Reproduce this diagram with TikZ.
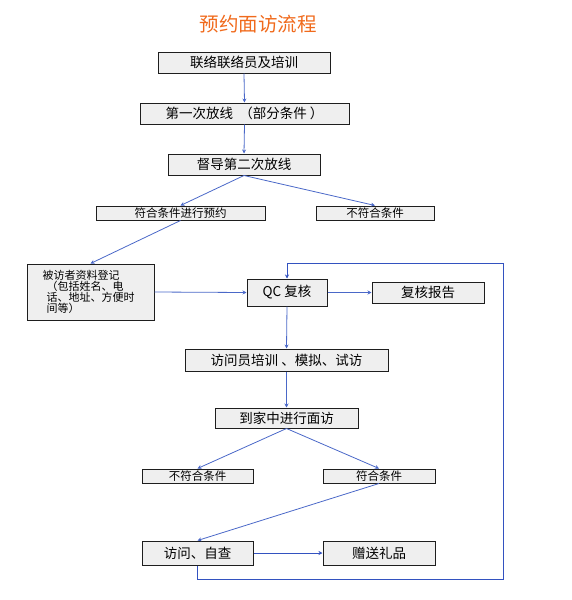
\documentclass[tikz,border=0pt]{standalone}
\usepackage{fontspec}
\usepackage{xcolor}
\usetikzlibrary{arrows.meta,positioning}
\newfontfamily\cjk{Noto Sans CJK SC}
\definecolor{Flame}{HTML}{F06A1C}
\definecolor{Wire}{HTML}{4A68C8}
\definecolor{DeepWire}{HTML}{3352C0}
\definecolor{Frame}{HTML}{1E1E1E}
\definecolor{Paper}{HTML}{EFEFEF}
\begin{document}
\begin{tikzpicture}[x=1pt,y=-1pt,
    box/.style={draw=Frame,fill=Paper,line width=1pt,inner sep=0pt,font=\cjk\fontsize{13.5}{13.5}\selectfont},
    thin box/.style={box,font=\cjk\fontsize{11.5}{11.5}\selectfont},
    link/.style={Wire,line width=.8pt,-{Stealth[length=4pt,width=4pt]}}]
  \useasboundingbox (0,0) rectangle (572,600);
  \node[font=\cjk\fontsize{19.5}{19.5}\selectfont,text=Flame] (tit) at (258,24) {预约面访流程};
  % boxes: name/x/y/width/height/style/text
  \foreach \n/\x/\y/\w/\h/\s/\t in {
      lianluo/244/62.5/172/21/box/联络联络员及培训,
      fang1/244.5/113.5/209/21/box/第一次放线 \ （部分条件 ）,
      fang2/244/164.5/152/21/box/督导第二次放线,
      yuyue/180.5/213/169/14/thin box/符合条件进行预约,
      bufu1/375/213/118/14/thin box/不符合条件,
      qc/287/292.5/80/27/box/QC 复核,
      baogao/428/292.5/112/21/box/复核报告,
      peixun/286.5/360/203/22/box/访问员培训 、模拟、试访,
      mianfang/286.5/418/143/20/box/到家中进行面访,
      bufu2/197.5/476/111/14/thin box/不符合条件,
      fuhe/379/476/112/14/thin box/符合条件,
      ziche/197.5/553/111/24/box/访问、自查,
      lipin/379/553/112/24/box/赠送礼品}{
    \node[\s,minimum width=\w pt,minimum height=\h pt] (\n) at (\x,\y) {\t};
  }
  \node[thin box,minimum width=127pt,minimum height=56pt,text width=88pt,align=left,
        font=\cjk\fontsize{11}{11}\selectfont] (dengji) at (90.5,292)
       {\hspace*{-4pt}被访者资料登记\\（包括姓名、电\\话、地址、方便时\\间等）};
  \coordinate (low) at (503.5,579.5);
  \coordinate (ret) at (503.5,263.5);
  \foreach \a/\b in {lianluo/fang1,fang1/fang2,fang2/yuyue,fang2/bufu1,yuyue/dengji,
      qc/peixun,peixun/mianfang,mianfang/bufu2,mianfang/fuhe,fuhe/ziche}{
    \draw[link] (\a.south) -- (\b.north);
  }
  \draw[link] (dengji.east) -- (qc.west);
  \draw[link] (qc.east) -- (baogao.west);
  \draw[link,DeepWire] (ziche.east) -- (lipin.west);
  \draw[link,DeepWire,line width=1pt] (ziche.south) |- (low) -- (ret) -| (qc.north);
\end{tikzpicture}
\end{document}
